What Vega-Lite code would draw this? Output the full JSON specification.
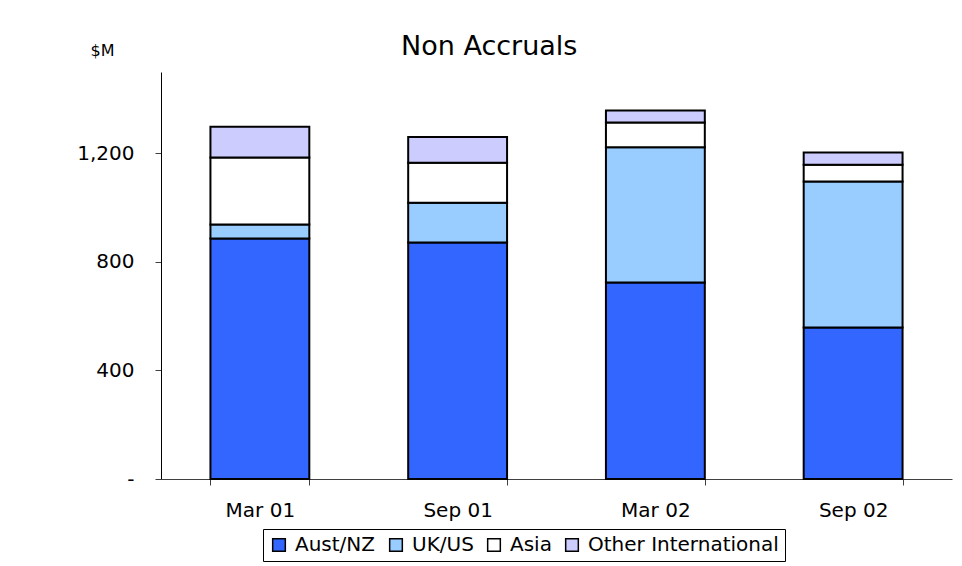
{
  "$schema": "https://vega.github.io/schema/vega-lite/v6.json",
  "width": 791,
  "height": 407,
  "autosize": {"type": "none"},
  "padding": {"left": 161, "top": 72, "right": 10, "bottom": 87},
  "background": "white",
  "title": {
    "text": "Non Accruals",
    "font": "DejaVu Sans",
    "fontSize": 27,
    "fontWeight": "normal",
    "color": "#000000",
    "anchor": "start",
    "frame": "group",
    "dx": 240,
    "baseline": "alphabetic",
    "offset": -40
  },
  "data": {
    "values": [
      {"period": "Mar 01", "region": "Aust/NZ", "k": 1, "value": 886},
      {"period": "Mar 01", "region": "UK/US", "k": 2, "value": 52},
      {"period": "Mar 01", "region": "Asia", "k": 3, "value": 247},
      {"period": "Mar 01", "region": "Other International", "k": 4, "value": 113},
      {"period": "Sep 01", "region": "Aust/NZ", "k": 1, "value": 872},
      {"period": "Sep 01", "region": "UK/US", "k": 2, "value": 146},
      {"period": "Sep 01", "region": "Asia", "k": 3, "value": 148},
      {"period": "Sep 01", "region": "Other International", "k": 4, "value": 94},
      {"period": "Mar 02", "region": "Aust/NZ", "k": 1, "value": 724},
      {"period": "Mar 02", "region": "UK/US", "k": 2, "value": 499},
      {"period": "Mar 02", "region": "Asia", "k": 3, "value": 91},
      {"period": "Mar 02", "region": "Other International", "k": 4, "value": 44},
      {"period": "Sep 02", "region": "Aust/NZ", "k": 1, "value": 558},
      {"period": "Sep 02", "region": "UK/US", "k": 2, "value": 538},
      {"period": "Sep 02", "region": "Asia", "k": 3, "value": 62},
      {"period": "Sep 02", "region": "Other International", "k": 4, "value": 45}
    ]
  },
  "mark": {"type": "bar", "stroke": "#000000", "strokeWidth": 2},
  "encoding": {
    "x": {
      "field": "period",
      "type": "nominal",
      "sort": ["Mar 01", "Sep 01", "Mar 02", "Sep 02"],
      "scale": {"paddingInner": 0.5, "paddingOuter": 0.25},
      "axis": {
        "title": null,
        "labelAngle": 0,
        "tickBand": "extent",
        "tickSize": 6,
        "tickColor": "#404040",
        "domainColor": "#404040",
        "labelFont": "DejaVu Sans",
        "labelFontSize": 20,
        "labelColor": "#000000",
        "labelPadding": 15
      }
    },
    "y": {
      "field": "value",
      "type": "quantitative",
      "stack": "zero",
      "scale": {"domain": [0, 1500], "nice": false},
      "axis": {
        "values": [0, 400, 800, 1200],
        "grid": false,
        "labelExpr": "datum.value == 0 ? '-' : format(datum.value, ',')",
        "tickSize": 6,
        "tickColor": "#404040",
        "domainColor": "#000000",
        "labelFont": "DejaVu Sans",
        "labelFontSize": 20,
        "labelColor": "#000000",
        "labelPadding": 21,
        "title": "$M",
        "titleFont": "DejaVu Sans",
        "titleFontSize": 16,
        "titleFontWeight": "normal",
        "titleColor": "#000000",
        "titleAngle": 0,
        "titleAlign": "center",
        "titleBaseline": "alphabetic",
        "titleX": -59,
        "titleY": -17
      }
    },
    "color": {
      "field": "region",
      "type": "nominal",
      "scale": {
        "domain": ["Aust/NZ", "UK/US", "Asia", "Other International"],
        "range": ["#3366FF", "#99CCFF", "#FFFFFF", "#CCCCFF"]
      },
      "legend": {
        "title": null,
        "orient": "none",
        "direction": "horizontal",
        "legendX": 102,
        "legendY": 457,
        "symbolType": "square",
        "symbolSize": 160,
        "symbolStrokeColor": "#000000",
        "symbolStrokeWidth": 1.5,
        "labelFont": "DejaVu Sans",
        "labelFontSize": 20,
        "labelColor": "#000000",
        "labelLimit": 0,
        "labelOffset": 6,
        "columnPadding": 10,
        "strokeColor": "#000000",
        "padding": 6
      }
    },
    "order": {"field": "k", "type": "quantitative"}
  },
  "config": {
    "view": {"stroke": null},
    "axis": {"domainWidth": 1, "tickWidth": 1}
  }
}
